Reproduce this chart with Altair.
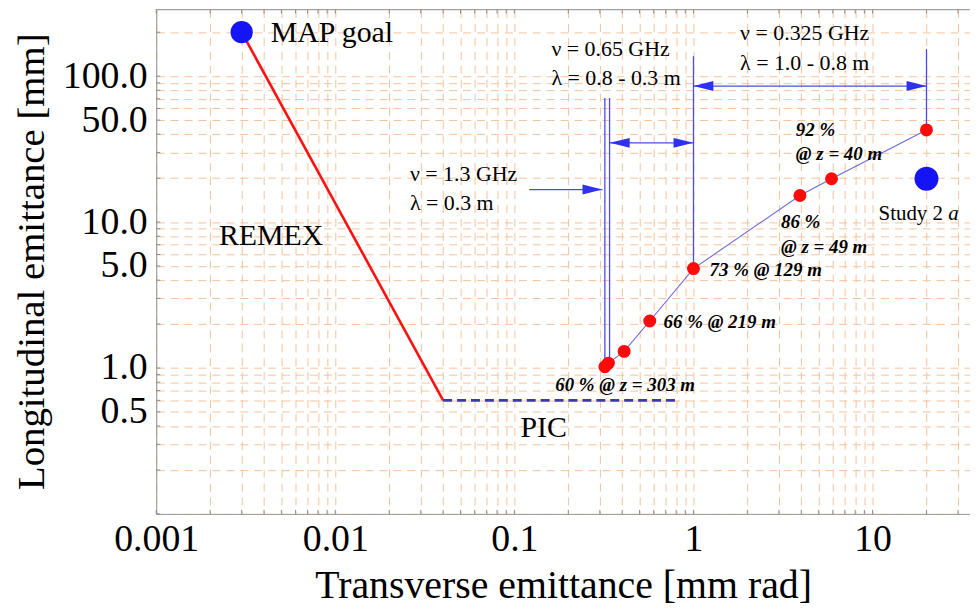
import altair as alt
import pandas as pd

FONT = "Liberation Serif"

# ---------------- data ----------------
remex_x = [0.003, 0.04]
remex_y = [200, 0.6]

pic_x = [0.04, 0.8]
pic_y = [0.6, 0.6]

goal_x = [0.003]
goal_y = [200]

study_x = [20]
study_y = [19.8]

sim_x = [0.32, 0.335, 0.41, 0.57, 1.0, 3.93, 5.9, 20]
sim_y = [1.02, 1.08, 1.3, 2.1, 4.8, 15.2, 19.8, 42.8]

vline_x = [0.32, 0.34, 1.0, 20]
vline_top = [70.8, 70.8, 137, 153]
vline_bottom = [1.02, 1.08, 4.8, 42.8]

arrow_x1 = [0.121, 0.341, 1.0]
arrow_x2 = [0.31, 1.0, 20]
arrow_y = [16.7, 34.9, 85.5]
head_left_x = [0.341, 1.0]
head_left_y = [34.9, 85.5]

plain_text = ["MAP goal", "REMEX", "PIC"]
plain_x = [0.00436, 0.00224, 0.108]
plain_y = [197, 7.96, 0.39]

freq_text = ["ν = 0.65 GHz", "λ = 0.8 - 0.3 m", "ν = 0.325 GHz", "λ = 1.0 - 0.8 m",
             "ν = 1.3 GHz", "λ = 0.3 m"]
freq_x = [0.161, 0.161, 1.82, 1.82, 0.0261, 0.0261]
freq_y = [153, 96.9, 196, 123, 21.4, 13.6]

eff_text = ["60 % @ z = 303 m", "66 % @ 219 m", "73 % @ 129 m", "86 %", "@ z = 49 m",
            "92 %", "@ z = 40 m"]
eff_x = [0.169, 0.681, 1.23, 3.08, 3.08, 3.73, 3.73]
eff_y = [0.766, 2.06, 4.67, 9.93, 6.7, 42.8, 29.4]

study_label_x = [10.8]
study_label_y = [11.4]

x_major = [0.001, 0.01, 0.1, 1, 10]
y_major = [0.5, 1, 5, 10, 50, 100]
x_ticks = [round(m * 10 ** e, 6) for e in range(-3, 2) for m in range(1, 10) if m * 10 ** e <= 35]
y_ticks = [round(m * 10 ** e, 6) for e in range(-1, 3) for m in range(1, 10) if m * 10 ** e <= 286]

W, H = 818, 507
GRID = "#f6c29a"

xscale = alt.Scale(type="log", domain=[0.001, 35], nice=False)
yscale = alt.Scale(type="log", domain=[0.1, 286], nice=False)

xaxis = alt.Axis(
    values=x_ticks,
    labelExpr="indexof(" + str(x_major) + ", datum.value) >= 0 ? format(datum.value, '~g') : ''",
    title="Transverse emittance [mm rad]",
    grid=True, gridColor=GRID, gridDash=[8, 6], gridWidth=1,
    ticks=False, domainColor="#9a9a9a",
    labelFont=FONT, labelFontSize=38, labelPadding=7, labelColor="black",
    labelFlush=False, labelOverlap=False, labelBound=False,
    titleFont=FONT, titleFontSize=40, titleFontWeight="normal", titleColor="black",
    titleBaseline="alphabetic", titleY=84,
)
yaxis = alt.Axis(
    values=y_ticks,
    labelExpr="indexof(" + str(y_major) + ", datum.value) >= 0 ? format(datum.value, '.1f') : ''",
    title="Longitudinal emittance [mm]",
    grid=True, gridColor=GRID, gridDash=[8, 6], gridWidth=1,
    ticks=False, domainColor="#9a9a9a",
    labelFont=FONT, labelFontSize=38, labelPadding=9, labelColor="black",
    labelFlush=False, labelOverlap=False, labelBound=False, labelBaseline="middle",
    titleFont=FONT, titleFontSize=39, titleFontWeight="normal", titleColor="black",
    titleBaseline="alphabetic", titleX=-113, titleY=253, titleAngle=270,
)


def X(f="x"):
    return alt.X(f + ":Q", scale=xscale, axis=xaxis)


def Y(f="y"):
    return alt.Y(f + ":Q", scale=yscale, axis=yaxis)


def df(**kw):
    return pd.DataFrame(kw)


layers = []

# frame ticks (inside)
layers.append(alt.Chart(df(x=x_ticks)).mark_rule(color="#8a8a8a", strokeWidth=1).encode(
    x=X(), y=alt.value(H), y2=alt.value(H - 4)))
layers.append(alt.Chart(df(x=x_ticks)).mark_rule(color="#8a8a8a", strokeWidth=1).encode(
    x=X(), y=alt.value(0), y2=alt.value(4)))
layers.append(alt.Chart(df(y=y_ticks)).mark_rule(color="#8a8a8a", strokeWidth=1).encode(
    y=Y(), x=alt.value(0), x2=alt.value(4)))
layers.append(alt.Chart(df(y=[1])).mark_rule(color="#9a9a9a", strokeWidth=1).encode(
    x=alt.value(0), x2=alt.value(W), y=alt.value(0)))

# REMEX line
layers.append(alt.Chart(df(x=remex_x, y=remex_y)).mark_line(color="#ff1010", strokeWidth=2.6).encode(
    x=X(), y=Y()))
# PIC dashed line
layers.append(alt.Chart(df(x=pic_x, y=pic_y)).mark_line(color="#3a3aa8", strokeWidth=2.6,
                                                        strokeDash=[9, 5]).encode(x=X(), y=Y()))
# vertical guide lines
layers.append(alt.Chart(df(x=vline_x, y=vline_top, y2=vline_bottom)).mark_rule(
    color="#4b4bf0", strokeWidth=1.3).encode(x=X(), y=Y(), y2="y2:Q"))
# arrows
layers.append(alt.Chart(df(x=arrow_x1, x2=arrow_x2, y=arrow_y)).mark_rule(
    color="#4b4bf0", strokeWidth=1.3).encode(x=X(), x2="x2:Q", y=Y()))
layers.append(alt.Chart(df(x=arrow_x2, y=arrow_y)).mark_point(
    shape="M0,0L-2,-0.5L-2,0.5Z", filled=True, opacity=1, color="#3030f0", size=400,
    strokeWidth=0).encode(x=X(), y=Y()))
layers.append(alt.Chart(df(x=head_left_x, y=head_left_y)).mark_point(
    shape="M0,0L2,-0.5L2,0.5Z", filled=True, opacity=1, color="#3030f0", size=400,
    strokeWidth=0).encode(x=X(), y=Y()))
# simulation connecting line
layers.append(alt.Chart(df(x=sim_x, y=sim_y)).mark_line(color="#6a6ad8", strokeWidth=1.1).encode(
    x=X(), y=Y()))
# simulation points
layers.append(alt.Chart(df(x=sim_x, y=sim_y)).mark_circle(color="#ff0a0a", opacity=1, size=170).encode(
    x=X(), y=Y()))
# MAP goal and Study 2a
layers.append(alt.Chart(df(x=goal_x, y=goal_y)).mark_circle(color="#1414f5", opacity=1, size=500).encode(
    x=X(), y=Y()))
layers.append(alt.Chart(df(x=study_x, y=study_y)).mark_circle(color="#1414f5", opacity=1, size=580).encode(
    x=X(), y=Y()))

# texts
layers.append(alt.Chart(df(x=plain_x, y=plain_y, t=plain_text)).mark_text(
    font=FONT, fontSize=30, align="left", baseline="middle", color="black").encode(
    x=X(), y=Y(), text="t:N"))
layers.append(alt.Chart(df(x=freq_x, y=freq_y, t=freq_text)).mark_text(
    font=FONT, fontSize=22, align="left", baseline="middle", color="black").encode(
    x=X(), y=Y(), text="t:N"))
layers.append(alt.Chart(df(x=eff_x, y=eff_y, t=eff_text)).mark_text(
    font=FONT, fontSize=19, fontWeight="bold", fontStyle="italic", align="left",
    baseline="middle", color="black").encode(x=X(), y=Y(), text="t:N"))
layers.append(alt.Chart(df(x=study_label_x, y=study_label_y, t=["Study 2"])).mark_text(
    font=FONT, fontSize=21, align="left", baseline="middle", color="black").encode(
    x=X(), y=Y(), text="t:N"))
layers.append(alt.Chart(df(x=study_label_x, y=study_label_y, t=["a"])).mark_text(
    font=FONT, fontSize=21, fontStyle="italic", align="left", baseline="middle", dx=70,
    color="black").encode(x=X(), y=Y(), text="t:N"))

chart = alt.layer(*layers).properties(
    width=W, height=H,
    autosize=alt.AutoSizeParams(type="none"),
    padding={"left": 149, "top": 0, "right": 0, "bottom": 92},
).configure_view(stroke=None).configure(background="white")

chart.save("out.html", embed_options={"renderer": "svg", "actions": False})
